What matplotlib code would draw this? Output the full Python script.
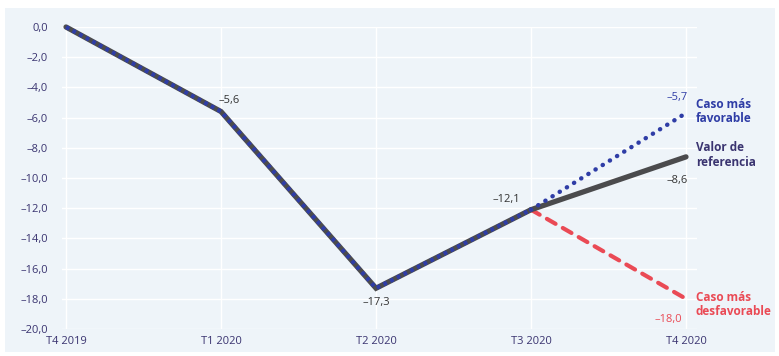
import matplotlib.pyplot as plt
from matplotlib.patches import Rectangle

# quarters and GDP change (%) vs T4 2019
quarters = ["T4 2019", "T1 2020", "T2 2020", "T3 2020", "T4 2020"]
observed = [0.0, -5.6, -17.3, -12.1]
reference_end = -8.6
favorable_end = -5.7
unfavorable_end = -18.0

plt.rcParams['font.family'] = ['Open Sans', 'DejaVu Sans']

gray = "#4b4b4d"
blue = "#2f3da6"
red = "#ea4a55"
ink = "#3a3470"
panel = "#eef4f9"


def fmt(v):
    s = f"{abs(v):.1f}".replace(".", ",")
    return s if v == 0 else "\u2013" + s


fig = plt.figure(figsize=(7.79, 3.56), dpi=100)
fig.patch.set_facecolor("white")
fig.patches.append(Rectangle((5 / 779, 1 - 352 / 356), 770 / 779, 344 / 356,
                             transform=fig.transFigure, facecolor=panel,
                             edgecolor="none", zorder=-10))

ax = fig.add_axes([62 / 779, 1 - 329 / 356, 635 / 779, 302 / 356])
ax.set_facecolor("none")
ax.set_xlim(-0.026, 4.071)
ax.set_ylim(-20, 0)

x_obs = list(range(len(observed)))
last = len(observed) - 1
x_proj = [last, last + 1]

# observed path: gray line with blue dashes on top
ax.plot(x_obs, observed, color=gray, lw=3.8, solid_capstyle="round",
        solid_joinstyle="miter", clip_on=False, zorder=3)
ax.plot(x_obs, observed, color=blue, lw=3.0, linestyle=(0, (0.9, 0.9)),
        dash_capstyle="butt", clip_on=False, zorder=4)

# scenarios for T4 2020
ax.plot(x_proj, [observed[-1], unfavorable_end], color=red, lw=3.0,
        linestyle=(0, (2.4, 2.0)), dash_capstyle="round", zorder=3, clip_on=False)
ax.plot(x_proj, [observed[-1], reference_end], color=gray, lw=3.8,
        solid_capstyle="round", zorder=4, clip_on=False)
ax.plot(x_proj, [observed[-1], favorable_end], color=blue, lw=3.2,
        linestyle=(0, (0.05, 1.85)), dash_capstyle="round", zorder=5, clip_on=False)

ax.set_xticks(range(len(quarters)))
ax.set_xticklabels(quarters)
ax.set_yticks(range(-20, 1, 2))
ax.set_yticklabels([fmt(v) for v in range(-20, 1, 2)])
ax.tick_params(axis="both", length=0, labelsize=8, labelcolor=ink)
ax.tick_params(axis="y", pad=10)
ax.tick_params(axis="x", pad=5)
ax.grid(True, color="white", lw=1.0)
ax.set_axisbelow(True)
for s in ax.spines.values():
    s.set_visible(False)

# value labels
lab = dict(fontsize=8, color="#333333", textcoords="offset points")
ax.annotate(fmt(observed[1]), (1, observed[1]), xytext=(-1.5, 4),
            ha="left", va="bottom", **lab)
ax.annotate(fmt(observed[2]), (2, observed[2]), xytext=(0, -6.5),
            ha="center", va="top", **lab)
ax.annotate(fmt(observed[3]), (3, observed[3]), xytext=(-8, 3.5),
            ha="right", va="bottom", **lab)
ax.annotate(fmt(favorable_end), (4, favorable_end), xytext=(1.5, 7),
            textcoords="offset points", ha="right", va="bottom",
            fontsize=8, color=blue)
ax.annotate(fmt(reference_end), (4, reference_end), xytext=(1.5, -13),
            ha="right", va="top", **lab)
ax.annotate(fmt(unfavorable_end), (4, unfavorable_end), xytext=(-3, -11),
            textcoords="offset points", ha="right", va="top",
            fontsize=8, color=red)

# series names at the right end
names = dict(fontsize=8.5, fontweight="bold", ha="left", va="center",
             textcoords="offset points", annotation_clip=False,
             linespacing=1.15)
ax.annotate("Caso más\nfavorable", (4, favorable_end), xytext=(7, 1),
            color=blue, **names)
ax.annotate("Valor de\nreferencia", (4, reference_end), xytext=(7, 1.5),
            color=ink, **names)
ax.annotate("Caso más\ndesfavorable", (4, unfavorable_end), xytext=(7, -4),
            color=red, **names)

fig.savefig("out.png", dpi=100)
